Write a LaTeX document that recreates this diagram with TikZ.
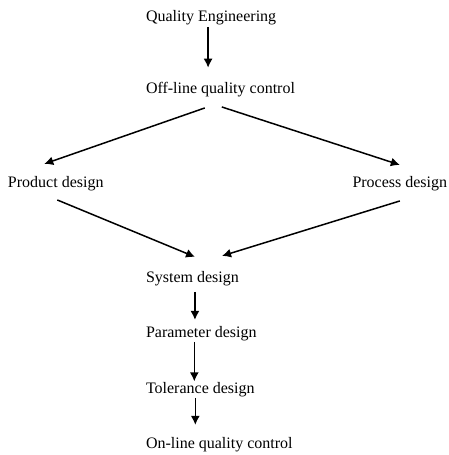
\documentclass[tikz,border=0pt]{standalone}
\usepackage{fontspec}
\setmainfont{Liberation Serif}
\usetikzlibrary{arrows.meta}

\tikzset{
  etapa/.style={anchor=base west,inner sep=0pt,outer sep=0pt,font=\fontsize{16}{19}\selectfont},
  seta/.style={line width=1.5pt,-{Latex[length=9pt,width=9pt]}}
}

\begin{document}
\begin{tikzpicture}[x=1pt,y=-1pt]

\useasboundingbox (0,0) rectangle (448,455);

% etapas
\node[etapa] (qe) at (146,21) {Quality Engineering};
\node[etapa] (offline) at (146,93) {Off-line quality control};
\node[etapa] (product) at (8,187) {Product design};
\node[etapa] (process) at (352.5,187) {Process design};
\node[etapa] (system) at (146,282) {System design};
\node[etapa] (parameter) at (146,337) {Parameter design};
\node[etapa] (tolerance) at (146,393) {Tolerance design};
\node[etapa] (online) at (146,448) {On-line quality control};

% setas verticais
\draw[seta,shorten <=2.5pt,shorten >=14pt] ([xshift=-3pt]qe.south) -- ([xshift=-3pt]qe.south |- offline.north);
\draw[seta,shorten <=6.5pt,shorten >=6pt] ([xshift=2.5pt]system.south) -- ([xshift=2.5pt]system.south |- parameter.north);
\draw[seta,shorten <=1.5pt,shorten >=0.5pt] ([xshift=-7pt]parameter.south) -- ([xshift=-7pt]parameter.south |- tolerance.north);
\draw[seta,shorten <=1.5pt,shorten >=12pt] ([xshift=-5pt]tolerance.south) -- ([xshift=-5pt]tolerance.south |- online.north);

% setas inclinadas
\draw[seta] ([xshift=-15.7pt,yshift=-11.5pt]offline.south) -- ([xshift=-11.5pt,yshift=12pt]product.north);
\draw[seta] ([xshift=1.3pt,yshift=-10.5pt]offline.south) -- ([yshift=11pt]process.north);
\draw[seta] ([xshift=1.5pt,yshift=-9.5pt]product.south) -- ([xshift=2.6pt,yshift=14pt]system.north);
\draw[seta] ([yshift=-10.5pt]process.south) -- ([xshift=29.6pt,yshift=15pt]system.north);

\end{tikzpicture}
\end{document}
